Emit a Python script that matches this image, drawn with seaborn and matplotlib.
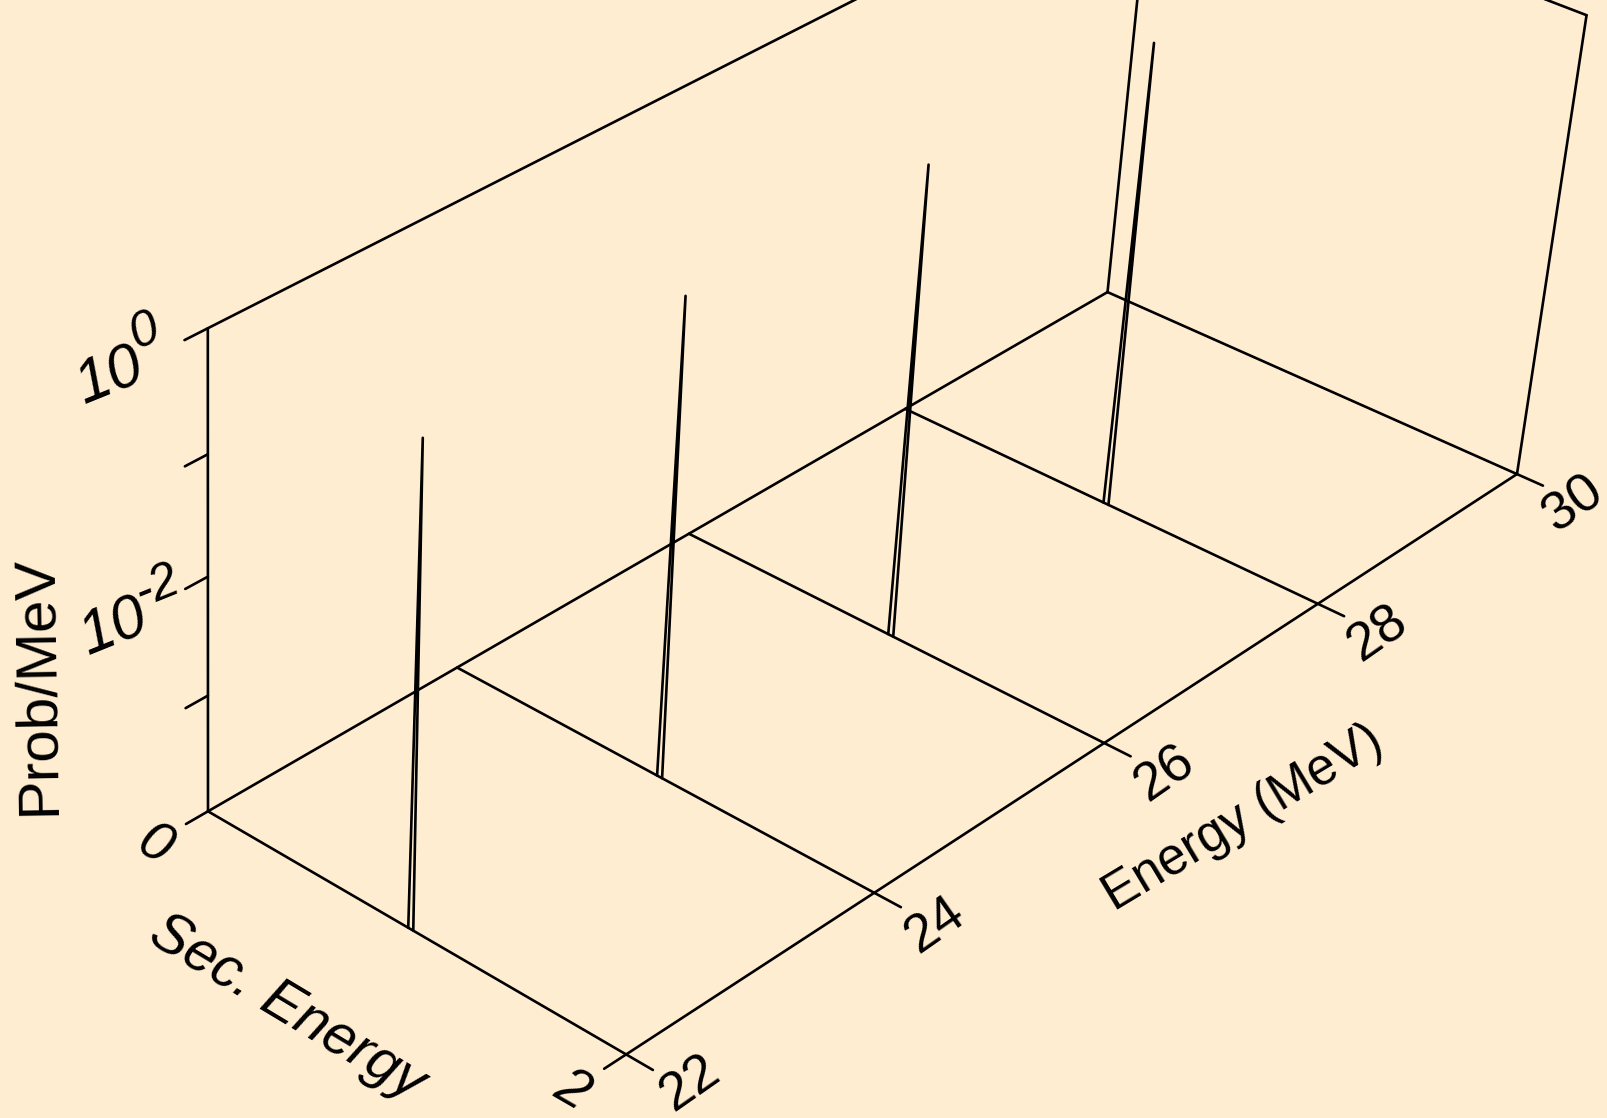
import numpy as np
import pandas as pd
import matplotlib
matplotlib.use("Agg")
import matplotlib.pyplot as plt
import seaborn as sns

BG = "#FFEDD2"
FONT = "Liberation Sans"

# peaks, one per incident energy
peak_energy = [22, 24, 26, 28]
peak_sec = [1.0, 1.0, 1.0, 1.0]
peak_half_width = [0.012, 0.012, 0.012, 0.012]
peak_log_prob = [0.0, 0.0, 0.0, 0.0]

energy_ticks = [22, 24, 26, 28, 30]
sec_ticks = [0, 2]
log_prob_ticks = [0, -1, -2, -3, -4]

E_MIN, E_MAX = 22, 30
S_MIN, S_MAX = 0, 2
Z_MIN, Z_MAX = -4, 0

# where known box points sit in the picture, used to fit the camera
calib = [
    (22, 0, -4, 208, 811), (22, 2, -4, 626, 1054), (30, 2, -4, 1517, 474.5),
    (30, 0, -4, 1107, 292), (22, 0, 0, 208, 328), (30, 2, 0, 1587, 14.7),
    (30, 0, 0, 1152, -151), (24, 2, -4, 874, 892), (26, 2, -4, 1105, 743),
    (28, 2, -4, 1317, 605), (24, 0, -4, 456, 668), (26, 0, -4, 689, 533),
    (28, 0, -4, 907, 408), (22, 0, -1, 208, 454), (22, 0, -2, 208, 577),
    (22, 0, -3, 208, 697),
]


def fit_camera(points):
    rows = []
    for e, s, z, u, v in points:
        rows.append([e, s, z, 1, 0, 0, 0, 0, -u * e, -u * s, -u * z, -u])
        rows.append([0, 0, 0, 0, e, s, z, 1, -v * e, -v * s, -v * z, -v])
    rows = np.array(rows, dtype=float)
    scale = np.abs(rows).max(axis=0)
    _, _, vt = np.linalg.svd(rows / scale)
    return (vt[-1] / scale).reshape(3, 4)


CAM = fit_camera(calib)


def project(e, s, z):
    p = CAM @ np.array([e, s, z, 1.0])
    return p[0] / p[2], p[1] / p[2]


rows = []


def add_line(*pts):
    seg = len(set(r[0] for r in rows))
    for e, s, z in pts:
        u, v = project(e, s, z)
        rows.append((seg, u, v))


sns.set_theme(style="white", rc={"figure.facecolor": BG, "axes.facecolor": BG})
plt.rcParams["font.family"] = [FONT, "DejaVu Sans"]

fig = plt.figure(figsize=(16.07, 11.18), dpi=100, facecolor=BG)
ax = fig.add_axes([0, 0, 1, 1])

E_TICK = 0.17
S_TICK = 0.12

# box
add_line((E_MIN, S_MIN, Z_MIN), (E_MAX, S_MIN, Z_MIN))
add_line((E_MIN - E_TICK, S_MAX, Z_MIN), (E_MAX, S_MAX, Z_MIN))
add_line((E_MIN, S_MIN, Z_MAX), (E_MAX, S_MIN, Z_MAX))
add_line((E_MAX, S_MIN, Z_MAX), (E_MAX, S_MAX, Z_MAX))
add_line((E_MIN, S_MIN, Z_MIN), (E_MIN, S_MIN, Z_MAX))
add_line((E_MAX, S_MIN, Z_MIN), (E_MAX, S_MAX, Z_MIN)) if False else None
add_line((E_MAX, S_MIN, Z_MIN), (E_MAX, S_MIN, Z_MAX))
add_line((E_MAX, S_MAX, Z_MIN), (E_MAX, S_MAX, Z_MAX))
for e in energy_ticks:
    add_line((e, S_MIN, Z_MIN), (e, S_MAX + S_TICK, Z_MIN))
for z in log_prob_ticks:
    add_line((E_MIN, S_MIN, z), (E_MIN - E_TICK, S_MIN, z))

# peaks
for e, s, w, z in zip(peak_energy, peak_sec, peak_half_width, peak_log_prob):
    add_line((e, s - w, Z_MIN), (e, s, z), (e, s + w, Z_MIN))

df = pd.DataFrame(rows, columns=["seg", "u", "v"])
sns.lineplot(data=df, x="u", y="v", units="seg", estimator=None, sort=False,
             color="black", linewidth=1.9, ax=ax, legend=False)
ax.set_xlim(0, 1607)
ax.set_ylim(1118, 0)
ax.axis("off")


def tick_label(text, anchor, off, rot, size=39, style="normal"):
    ax.annotate(text, xy=project(*anchor), xytext=off, textcoords="offset pixels",
                rotation=rot, rotation_mode="anchor", ha="center", va="center",
                fontsize=size, fontstyle=style, color="black")


energy_label_off = [(37, -13), (34, -18), (34, -18), (34, -18), (30, -18)]
for e, off in zip(energy_ticks, energy_label_off):
    tick_label(str(e), (e, S_MAX + S_TICK, Z_MIN), off, 35)
for s in sec_ticks:
    tick_label(str(s), (E_MIN - E_TICK, s, Z_MIN), (-32, -22), -30, size=40, style="italic")

tick_label("10", (E_MIN - E_TICK, S_MIN, 0), (-75, -37), 22, size=44, style="italic")
tick_label("0", (E_MIN - E_TICK, S_MIN, 0), (-40, 8), 22, size=36, style="italic")
tick_label("10", (E_MIN - E_TICK, S_MIN, -2), (-71, -39), 22, size=44, style="italic")
tick_label("-2", (E_MIN - E_TICK, S_MIN, -2), (-28, 2), 22, size=36, style="italic")

ax.text(287, 1008, "Sec. Energy", rotation=-31, rotation_mode="anchor", ha="center",
        va="center", fontsize=41, fontstyle="italic", color="black")
ax.text(1243, 818, "Energy (MeV)", rotation=31, rotation_mode="anchor", ha="center",
        va="center", fontsize=37, color="black")
ax.text(37, 685, "Prob/MeV", rotation=91, rotation_mode="anchor", ha="center",
        va="center", fontsize=42, color="black")

fig.savefig("out.png", dpi=100, facecolor=BG)
plt.close(fig)
